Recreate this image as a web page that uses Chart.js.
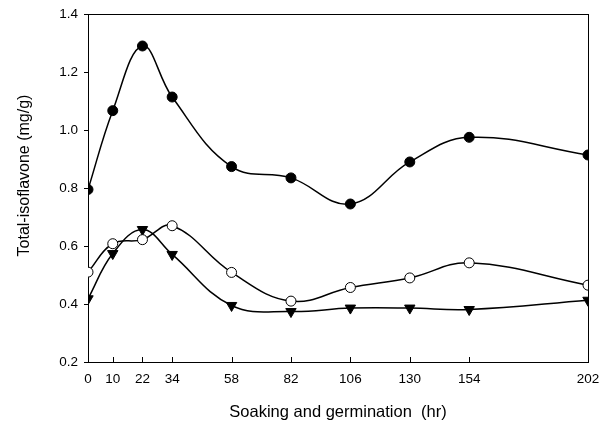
<!DOCTYPE html>
<html>
<head>
<meta charset="utf-8">
<script src="https://cdn.jsdelivr.net/npm/chart.js@4/dist/chart.umd.min.js"></script>
<style>
html,body{margin:0;padding:0;background:#fff;}
#wrap{width:610px;height:427px;position:relative;}
</style>
</head>
<body>
<div id="wrap"><canvas id="c" width="610" height="427"></canvas></div>
<script>
const hours = [0, 10, 22, 34, 58, 82, 106, 130, 154, 202];
const xTickLabels = [0, 10, 22, 34, 58, 82, 106, 130, 154, 202];
const yTickValues = [0.2, 0.4, 0.6, 0.8, 1.0, 1.2, 1.4];
const filledCircle = [0.795, 1.067, 1.290, 1.114, 0.874, 0.835, 0.745, 0.890, 0.975, 0.914];
const openCircle   = [0.510, 0.608, 0.622, 0.670, 0.509, 0.410, 0.457, 0.490, 0.542, 0.465];
const downTriangle = [0.418, 0.574, 0.657, 0.571, 0.395, 0.374, 0.386, 0.386, 0.381, 0.413];
const yTitle = 'Total-isoflavone (mg/g)';
const xTitle = 'Soaking and germination  (hr)';

function pts(vals){ return hours.map((h,i)=>({x:h, y:vals[i]})); }

const FONT = "'Liberation Sans', Arial, sans-serif";

const framePlugin = {
  id: 'frame',
  beforeDatasetsDraw(chart){
    const {ctx, chartArea:a, scales} = chart;
    ctx.save();
    ctx.strokeStyle = '#000';
    ctx.lineWidth = 1;
    ctx.strokeRect(Math.round(a.left)+0.5, Math.round(a.top)+0.5, Math.round(a.right-a.left), Math.round(a.bottom-a.top));
    ctx.beginPath();
    xTickLabels.forEach(v=>{
      const px = Math.round(scales.x.getPixelForValue(v))+0.5;
      ctx.moveTo(px, a.bottom);
      ctx.lineTo(px, a.bottom-5);
    });
    ctx.stroke();
    // y axis title
    ctx.fillStyle = '#000';
    ctx.font = '16px ' + FONT;
    ctx.textAlign = 'center';
    ctx.textBaseline = 'middle';
    ctx.translate(24.5, 175.5);
    ctx.rotate(-Math.PI/2);
    ctx.fillText(yTitle, 0, 0);
    ctx.restore();
  }
};

const common = {
  borderColor:'#000', borderWidth:1.5, tension:0.4, fill:false,
  pointBorderColor:'#000', pointBorderWidth:1, pointHoverRadius:5
};

new Chart(document.getElementById('c'), {
  type:'line',
  data:{
    datasets:[
      Object.assign({}, common, {label:'filled', data:pts(filledCircle), pointStyle:'circle', pointRadius:5, pointBackgroundColor:'#000'}),
      Object.assign({}, common, {label:'open', data:pts(openCircle), pointStyle:'circle', pointRadius:5, pointBackgroundColor:'#fff'}),
      Object.assign({}, common, {label:'triangle', data:pts(downTriangle), pointStyle:'triangle', pointRotation:180, pointRadius:6, pointBackgroundColor:'#000'})
    ]
  },
  options:{
    responsive:false, animation:false,
    layout:{padding:{top:13, right:22, left:0, bottom:0}},
    plugins:{legend:{display:false}, tooltip:{enabled:false}},
    scales:{
      x:{
        type:'linear', min:0, max:202,
        afterBuildTicks:(s)=>{ s.ticks = xTickLabels.map(v=>({value:v})); },
        afterFit:(s)=>{ s.height = 65; },
        grid:{display:true, drawOnChartArea:false, drawTicks:false},
        border:{display:false},
        ticks:{color:'#000', font:{family:FONT, size:13.5}, padding:9, maxRotation:0, autoSkip:false},
        title:{display:true, text:xTitle, color:'#000', font:{family:FONT, size:16.5}, padding:{top:0, bottom:5}}
      },
      y:{
        type:'linear', min:0.2, max:1.4,
        afterBuildTicks:(s)=>{ s.ticks = yTickValues.map(v=>({value:v})); },
        afterFit:(s)=>{ s.width = 88; },
        grid:{display:true, drawOnChartArea:false, drawTicks:true, tickLength:4, color:'#000'},
        border:{display:false},
        ticks:{color:'#000', font:{family:FONT, size:13.5}, padding:6, callback:(v)=>Number(v).toFixed(1)},
        title:{display:false}
      }
    }
  },
  plugins:[framePlugin]
});
</script>
</body>
</html>
